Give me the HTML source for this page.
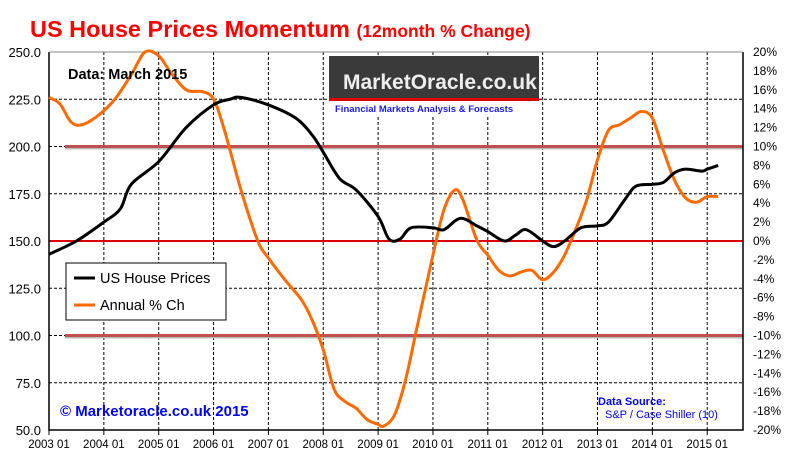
<!DOCTYPE html>
<html><head><meta charset="utf-8"><style>
body{margin:0;background:#fff;}
svg{display:block;font-family:"Liberation Sans",Arial,sans-serif;}
</style></head><body>
<svg id="chart" width="794" height="458" viewBox="0 0 794 458">
<rect x="0" y="0" width="794" height="458" fill="#fff"/>
<text x="30" y="37" font-size="23.5" font-weight="bold" fill="#ff0000">US House Prices Momentum <tspan font-size="17.5">(12month % Change)</tspan></text>
<g id="grid"></g>
<g id="refs"></g>
<g id="axes"></g>
<g id="series"></g>
<g>
<rect x="329" y="56" width="210" height="44" fill="#3a3a3a"/>
<rect x="329" y="98" width="210" height="3" fill="#e00000"/>
<text x="343" y="89" font-size="21" font-weight="bold" fill="#eee">MarketOracle.co.uk</text>
<rect x="333" y="102" width="205" height="14" fill="#fff"/>
<text x="335" y="112" font-size="9.5" font-weight="bold" fill="#1a1aff">Financial Markets Analysis &amp; Forecasts</text>
</g>
<text x="68" y="79" font-size="14.5" font-weight="bold" fill="#000">Data:  March 2015</text>
<g>
<rect x="66" y="263" width="160" height="57" fill="#fff" stroke="#000"/>
<line x1="74" y1="278" x2="95" y2="278" stroke="#000" stroke-width="3"/>
<text x="100" y="283" font-size="14.5">US House Prices</text>
<line x1="74" y1="305" x2="95" y2="305" stroke="#ff6a00" stroke-width="3"/>
<text x="100" y="310" font-size="14.5">Annual % Ch</text>
</g>
<text x="60" y="416" font-size="15" font-weight="bold" fill="#0000ff">© Marketoracle.co.uk 2015</text>
<text x="598" y="405" font-size="11" font-weight="bold" fill="#0000ff">Data Source:</text>
<text x="605" y="418" font-size="11" fill="#0000ff">S&amp;P / Case Shiller (10)</text>
</svg>
<script>
const priceYears=[2003.0,2003.5,2004.0,2004.3,2004.5,2005.0,2005.5,2006.0,2006.3,2006.5,2007.0,2007.5,2007.8,2008.0,2008.3,2008.6,2009.0,2009.2,2009.4,2009.6,2010.0,2010.2,2010.5,2010.8,2011.0,2011.3,2011.5,2011.7,2012.0,2012.2,2012.4,2012.7,2013.0,2013.2,2013.5,2013.7,2014.0,2014.2,2014.4,2014.6,2014.9,2015.0,2015.2];
const priceValues=[143,150,160,167,180,192,210,222,225,226,222,215,206,197,183,177,163,151,151,157,157,156,162,158,155,150,153,156,150,147,150,157,158,160,172,179,180,181,186,188,187,188,190];
const pctYears=[2003.0,2003.2,2003.4,2003.6,2003.9,2004.2,2004.5,2004.75,2005.0,2005.2,2005.5,2005.8,2006.0,2006.2,2006.5,2006.8,2007.0,2007.3,2007.6,2007.8,2008.0,2008.2,2008.4,2008.6,2008.8,2009.0,2009.1,2009.3,2009.5,2009.7,2010.0,2010.2,2010.4,2010.55,2010.8,2011.0,2011.2,2011.4,2011.6,2011.8,2012.0,2012.2,2012.4,2012.6,2012.8,2013.0,2013.2,2013.4,2013.6,2013.8,2014.0,2014.2,2014.4,2014.6,2014.8,2015.0,2015.2];
const pctValues=[15.2,14.5,12.6,12.3,13.3,15,17.6,20,19.6,18,16,15.8,15,11.7,5.4,0.1,-1.8,-4.1,-6.2,-8.4,-11.5,-15.7,-17,-17.7,-18.9,-19.4,-19.6,-18.4,-14.7,-9.4,-1.5,3.3,5.4,4.3,0.1,-1.5,-3.1,-3.7,-3.3,-3.1,-4.1,-3.3,-1.5,1.2,4.3,8.6,11.7,12.3,13,13.7,13,9.6,6.5,4.6,4.1,4.7,4.7];
const leftTicks=[50,75,100,125,150,175,200,225,250];
const rightTicks=[-20,-18,-16,-14,-12,-10,-8,-6,-4,-2,0,2,4,6,8,10,12,14,16,18,20];
const yearTicks=[2003,2004,2005,2006,2007,2008,2009,2010,2011,2012,2013,2014,2015];
const refPct=[10,-10];

const X0=49,X1=743,Y0=52,Y1=430;
const xs=y=>X0+(y-2003)*54.85;
const yL=v=>Y1-(v-50)/200*(Y1-Y0);
const yR=p=>Y1-(p+20)/40*(Y1-Y0);
const NS="http://www.w3.org/2000/svg";
function mk(parent,tag,at){const e=document.createElementNS(NS,tag);for(const k in at)e.setAttribute(k,at[k]);document.getElementById(parent).appendChild(e);return e;}

leftTicks.forEach(v=>{
 if(v>50){const l=mk('grid','line',{x1:X0,x2:X1,y1:yL(v),y2:yL(v),stroke:'#000','stroke-width':1,'stroke-dasharray':'3,2'});
 
 }
 const t=mk('axes','text',{x:X0-8,y:yL(v)+5,'text-anchor':'end','font-size':13});t.textContent=v.toFixed(1);
 
 
});
rightTicks.forEach(p=>{
 const t=mk('axes','text',{x:X1+10,y:yR(p)+4,'font-size':12});t.textContent=p+'%';
 
 
});
yearTicks.forEach(y=>{
 const x=xs(y);
 if(y>2003){const l=mk('grid','line',{x1:x,x2:x,y1:Y0,y2:Y1,stroke:'#000','stroke-width':1,'stroke-dasharray':'3,2'});
 
 }
 mk('axes','line',{x1:x,x2:x,y1:Y1,y2:Y1+5,stroke:'#000'});
 const t=mk('axes','text',{x:x,y:Y1+18,'text-anchor':'middle','font-size':11.5});t.textContent=y+' 01';
 
 
});
refPct.forEach(p=>{
 mk('refs','line',{x1:65,x2:X1,y1:yR(p)+1.5,y2:yR(p)+1.5,stroke:'#bbb','stroke-width':3});
 const l=mk('refs','line',{x1:65,x2:X1,y1:yR(p),y2:yR(p),stroke:'#c0504d','stroke-width':3});
 
 
});
const z=mk('refs','line',{x1:X0,x2:X1,y1:yR(0),y2:yR(0),stroke:'#e00000','stroke-width':2});


const ax=mk('axes','path',{d:`M${X0},${Y0}V${Y1}H${X1}V${Y0}`,fill:'none',stroke:'#000','stroke-width':1.5});


mk('axes','line',{x1:X0,x2:X1,y1:Y0,y2:Y0,stroke:'#888'});

function smooth(pts){let d=`M${pts[0][0]},${pts[0][1]}`;for(let i=0;i<pts.length-1;i++){const p0=pts[i-1]||pts[i],p1=pts[i],p2=pts[i+1],p3=pts[i+2]||p2;
d+=`C${p1[0]+(p2[0]-p0[0])/6},${p1[1]+(p2[1]-p0[1])/6} ${p2[0]-(p3[0]-p1[0])/6},${p2[1]-(p3[1]-p1[1])/6} ${p2[0]},${p2[1]}`;}return d;}
const pp=mk('series','path',{d:smooth(pctYears.map((y,i)=>[xs(y),yR(pctValues[i])])),fill:'none',stroke:'#ff6a00','stroke-width':3});


const bp=mk('series','path',{d:smooth(priceYears.map((y,i)=>[xs(y),yL(priceValues[i])])),fill:'none',stroke:'#000','stroke-width':3});


</script>
</body></html>
